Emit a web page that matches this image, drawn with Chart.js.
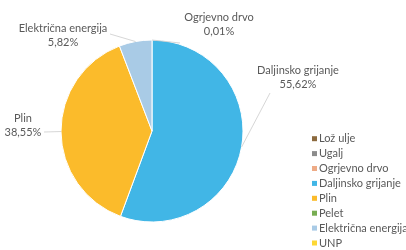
<!DOCTYPE html>
<html>
<head>
<meta charset="utf-8">
<script src="https://cdn.jsdelivr.net/npm/chart.js@4"></script>
<style>
  html, body { margin: 0; padding: 0; background: #fff; }
  #box { width: 406px; height: 250px; }
</style>
</head>
<body>
<div id="box"><canvas id="grafico_pita"></canvas></div>
<script>
// Podaci
let kategorije = ['Lož ulje', 'Ugalj', 'Ogrjevno drvo', 'Daljinsko grijanje', 'Plin', 'Pelet', 'Električna energija', 'UNP']
let udjeli = [0, 0, 0.01, 55.62, 38.55, 0, 5.82, 0]
let boje = ['#8c6a3f', '#8c8c8c', '#eeab86', '#41b6e6', '#fbbb2b', '#78ad52', '#a9cbe6', '#fdd835']

// pomak oznaka od sredine pite (px), samo za ne-nulte kriske
let pomakOznaka = {
    2: { dx: 67, dy: -107, lx: 28, ly: -88 },
    3: { dx: 146, dy: -54, lx: 118, ly: -38 },
    4: { dx: -129, dy: -6, lx: -108, ly: 1 },
    6: { dx: -89, dy: -96, lx: -42, ly: -97 }
}

const oznake = {
    id: 'oznake',
    afterDatasetsDraw(chart) {
        const ctx = chart.ctx
        const meta = chart.getDatasetMeta(0)
        ctx.save()
        meta.data.forEach((arc, i) => {
            let p = pomakOznaka[i]
            if (!p || udjeli[i] <= 0) return
            let mid = (arc.startAngle + arc.endAngle) / 2
            let ex = arc.x + Math.cos(mid) * arc.outerRadius
            let ey = arc.y + Math.sin(mid) * arc.outerRadius
            ctx.strokeStyle = '#cccccc'
            ctx.lineWidth = 0.8
            ctx.beginPath()
            ctx.moveTo(ex, ey)
            ctx.lineTo(arc.x + p.lx, arc.y + p.ly)
            ctx.stroke()

            ctx.fillStyle = '#595959'
            ctx.font = '11px Lato'
            ctx.textAlign = 'center'
            ctx.textBaseline = 'middle'
            let tx = arc.x + p.dx
            let ty = arc.y + p.dy
            ctx.fillText(kategorije[i], tx, ty - 7)
            ctx.fillText(udjeli[i].toFixed(2).replace('.', ',') + '%', tx, ty + 7)
        })
        ctx.restore()
    }
}

// Legenda crtana rucno, desno dolje
const legenda = {
    id: 'legenda',
    afterDraw(chart) {
        const ctx = chart.ctx
        let x = chart.width - 94
        let korak = 14.9
        let y0 = chart.height - 7 - korak * (kategorije.length - 1)
        ctx.save()
        ctx.font = '11px Lato'
        ctx.textAlign = 'left'
        ctx.textBaseline = 'middle'
        kategorije.forEach((k, i) => {
            let y = y0 + i * korak
            ctx.fillStyle = boje[i]
            ctx.fillRect(x, y - 2.5, 5, 5)
            ctx.fillStyle = '#595959'
            ctx.fillText(k, x + 7, y)
        })
        ctx.restore()
    }
}

new Chart(document.getElementById('grafico_pita'), {
    type: 'pie',
    data: {
        labels: kategorije,
        datasets: [{
            data: udjeli,
            backgroundColor: boje,
            borderColor: '#ffffff',
            borderWidth: 1,
            radius: 91
        }]
    },
    options: {
        responsive: true,
        maintainAspectRatio: false,
        animation: false,
        layout: { padding: { top: 12, left: 0, right: 102, bottom: 0 } },
        plugins: {
            legend: { display: false },
            tooltip: { enabled: false }
        }
    },
    plugins: [oznake, legenda]
})
</script>
</body>
</html>
